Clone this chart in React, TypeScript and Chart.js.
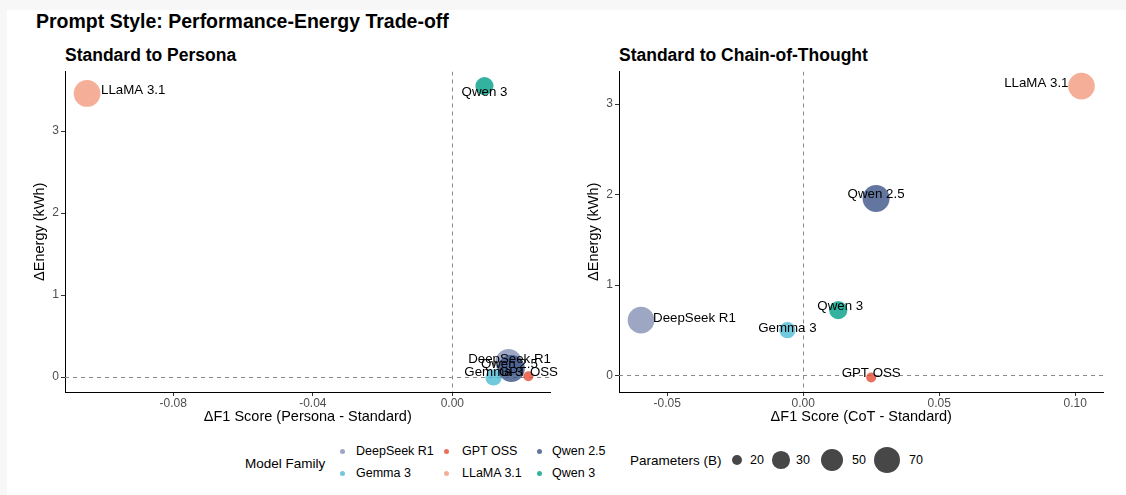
import React, { useEffect, useRef } from "react";
import { Chart, registerables } from "chart.js";

Chart.register(...registerables);

// ---------------- DATA ----------------
const models = ["DeepSeek R1", "Gemma 3", "GPT OSS", "LLaMA 3.1", "Qwen 2.5", "Qwen 3"];
const paramsB = [70, 27, 20, 70, 72, 32];

const personaDeltaF1 = [0.0161, 0.0118, 0.0218, -0.1047, 0.0169, 0.0092];
const personaDeltaEnergy = [0.18, -0.004, 0.01, 3.46, 0.106, 3.55];

const cotDeltaF1 = [-0.0596, -0.0058, 0.025, 0.1023, 0.0268, 0.0129];
const cotDeltaEnergy = [0.611, 0.5, -0.022, 3.2, 1.956, 0.722];

const personaXTicks = [-0.08, -0.04, 0.0];
const personaXTickLabels = ["-0.08", "-0.04", "0.00"];
const cotXTicks = [-0.05, 0.0, 0.05, 0.1];
const cotXTickLabels = ["-0.05", "0.00", "0.05", "0.10"];
const energyTicks = [0, 1, 2, 3];
const energyTickLabels = ["0", "1", "2", "3"];

const sizeBreaks = [20, 30, 50, 70];
const sizeBreakLabels = ["20", "30", "50", "70"];

const referenceX = [0];
const referenceY = [0];

// ---------------- STYLE ----------------
const FONT = '"Liberation Sans", Arial, Helvetica, sans-serif';
const familyColors = [
  "rgba(132,145,180,0.8)",
  "rgba(77,187,213,0.8)",
  "rgba(230,75,53,0.8)",
  "rgba(243,155,127,0.8)",
  "rgba(60,84,136,0.8)",
  "rgba(0,160,135,0.8)",
];
const P_MIN = 20;
const P_MAX = 72;
function sizeToRadius(p: number) {
  const t = Math.max(0, (p - P_MIN) / (P_MAX - P_MIN));
  return 5 + 8.5 * Math.sqrt(t);
}

type Place = { dx: number; dy: number; align: CanvasTextAlign };
const personaPlacement: Place[] = [
  { dx: 1, dy: -3, align: "center" },
  { dx: 0, dy: -5, align: "center" },
  { dx: 0, dy: -4, align: "center" },
  { dx: 14, dy: -3, align: "left" },
  { dx: -2, dy: -4, align: "center" },
  { dx: 0, dy: 6, align: "center" },
];
const cotPlacement: Place[] = [
  { dx: 12, dy: -2, align: "left" },
  { dx: 0, dy: -2, align: "center" },
  { dx: 0, dy: -4, align: "center" },
  { dx: -13, dy: -3, align: "right" },
  { dx: 0, dy: -4, align: "center" },
  { dx: 2, dy: -4, align: "center" },
];

function expandRange(vals: number[]) {
  const lo = Math.min(...vals);
  const hi = Math.max(...vals);
  const pad = (hi - lo) * 0.05;
  return [lo - pad, hi + pad];
}

function buildChart(
  canvas: HTMLCanvasElement,
  xs: number[],
  ys: number[],
  xTicks: number[],
  xTickLabels: string[],
  xTitle: string,
  placement: Place[]
) {
  const [xmin, xmax] = expandRange(xs);
  const [ymin, ymax] = expandRange(ys);

  const refPlugin = {
    id: "refLines",
    beforeDatasetsDraw(chart: any) {
      const { ctx, chartArea, scales } = chart;
      ctx.save();
      ctx.beginPath();
      ctx.rect(chartArea.left, chartArea.top, chartArea.right - chartArea.left, chartArea.bottom - chartArea.top);
      ctx.clip();
      ctx.strokeStyle = "#8a8a8a";
      ctx.lineWidth = 1;
      ctx.setLineDash([4, 4]);
      referenceX.forEach((v) => {
        const px = Math.round(scales.x.getPixelForValue(v)) + 0.5;
        ctx.beginPath();
        ctx.moveTo(px, chartArea.top);
        ctx.lineTo(px, chartArea.bottom);
        ctx.stroke();
      });
      referenceY.forEach((v) => {
        const py = Math.round(scales.y.getPixelForValue(v)) + 0.5;
        ctx.beginPath();
        ctx.moveTo(chartArea.left, py);
        ctx.lineTo(chartArea.right, py);
        ctx.stroke();
      });
      ctx.restore();
    },
  };

  const labelPlugin = {
    id: "pointLabels",
    afterDatasetsDraw(chart: any) {
      const { ctx } = chart;
      const meta = chart.getDatasetMeta(0);
      ctx.save();
      ctx.font = `13.3px ${FONT}`;
      ctx.fillStyle = "#000";
      ctx.textBaseline = "middle";
      meta.data.forEach((pt: any, i: number) => {
        const pl = placement[i];
        ctx.textAlign = pl.align;
        ctx.fillText(models[i], pt.x + pl.dx, pt.y + pl.dy);
      });
      ctx.restore();
    },
  };

  const tickFont = { family: FONT, size: 12 };
  const titleFont = { family: FONT, size: 14.5, lineHeight: 1 };

  return new Chart(canvas, {
    type: "scatter",
    data: {
      datasets: [
        {
          data: xs.map((x, i) => ({ x, y: ys[i] })),
          backgroundColor: familyColors,
          borderColor: "rgba(0,0,0,0)",
          borderWidth: 0,
          pointRadius: paramsB.map(sizeToRadius),
          pointHoverRadius: paramsB.map(sizeToRadius),
        },
      ],
    },
    options: {
      responsive: false,
      animation: false,
      devicePixelRatio: 1,
      events: [],
      layout: { padding: 0 },
      plugins: { legend: { display: false }, tooltip: { enabled: false } },
      scales: {
        x: {
          type: "linear",
          min: xmin,
          max: xmax,
          afterBuildTicks: (s: any) => {
            s.ticks = xTicks.map((v) => ({ value: v }));
          },
          afterFit: (s: any) => {
            s.height = 40;
            s.paddingLeft = 0;
            s.paddingRight = 0;
          },
          ticks: {
            callback: (_v: any, i: number) => xTickLabels[i],
            font: tickFont,
            color: "#4d4d4d",
            padding: 0,
            maxRotation: 0,
            autoSkip: false,
          },
          grid: { display: true, drawOnChartArea: false, drawTicks: true, tickLength: 4, color: "#333", lineWidth: 1 },
          border: { display: true, color: "#000", width: 1 },
          title: { display: true, text: xTitle, font: titleFont, color: "#000", padding: { top: 0, bottom: 8 } },
        },
        y: {
          type: "linear",
          min: ymin,
          max: ymax,
          afterBuildTicks: (s: any) => {
            s.ticks = energyTicks.map((v) => ({ value: v }));
          },
          afterFit: (s: any) => {
            s.width = 55;
            s.paddingTop = 0;
            s.paddingBottom = 0;
          },
          ticks: {
            callback: (_v: any, i: number) => energyTickLabels[i],
            font: tickFont,
            color: "#4d4d4d",
            padding: 2,
            autoSkip: false,
          },
          grid: { display: true, drawOnChartArea: false, drawTicks: true, tickLength: 4, color: "#333", lineWidth: 1 },
          border: { display: true, color: "#000", width: 1 },
          title: { display: true, text: "ΔEnergy (kWh)", font: titleFont, color: "#000", padding: { top: 23, bottom: 0 } },
        },
      },
    },
    plugins: [refPlugin, labelPlugin],
  } as any);
}

// page offset of the white card
const OX = 7;
const OY = 10;
const CANVAS_TOP = 58; // page y
const CANVAS_H = 374;

function Panel(props: {
  pageLeft: number;
  width: number;
  xs: number[];
  ys: number[];
  xTicks: number[];
  xTickLabels: string[];
  xTitle: string;
  placement: Place[];
}) {
  const ref = useRef<HTMLCanvasElement | null>(null);
  useEffect(() => {
    if (!ref.current) return;
    const c = buildChart(ref.current, props.xs, props.ys, props.xTicks, props.xTickLabels, props.xTitle, props.placement);
    return () => c.destroy();
  }, []);
  return (
    <canvas
      ref={ref}
      width={props.width}
      height={CANVAS_H}
      style={{ position: "absolute", left: props.pageLeft - OX, top: CANVAS_TOP - OY, width: props.width, height: CANVAS_H }}
    />
  );
}

function Txt(props: { x: number; cy: number; size: number; bold?: boolean; children: any; color?: string }) {
  return (
    <div
      style={{
        position: "absolute",
        left: props.x - OX,
        top: props.cy - OY - props.size / 2,
        fontSize: props.size,
        lineHeight: `${props.size}px`,
        fontWeight: props.bold ? 700 : 400,
        fontFamily: FONT,
        color: props.color || "#000",
        whiteSpace: "nowrap",
      }}
    >
      {props.children}
    </div>
  );
}

function Dot(props: { cx: number; cy: number; r: number; color: string }) {
  return (
    <div
      style={{
        position: "absolute",
        left: props.cx - OX - props.r,
        top: props.cy - OY - props.r,
        width: props.r * 2,
        height: props.r * 2,
        borderRadius: "50%",
        background: props.color,
      }}
    />
  );
}

export default function App() {
  const colX = [342, 446, 539];
  const labX = [356, 462, 552];
  const rowY = [451, 473];
  const sizeX = [737, 781, 832, 887];
  const sizeLabX = [750, 796, 852, 909];
  return (
    <>
      <style>{`body{margin:0;background:#f7f7f7;}`}</style>
      <div
        style={{
          position: "absolute",
          left: OX,
          top: OY,
          width: 1126 - OX,
          height: 495 - OY,
          background: "#fff",
          overflow: "hidden",
        }}
      >
        <Txt x={36} cy={22} size={19.5} bold>
          Prompt Style: Performance-Energy Trade-off
        </Txt>
        <Txt x={65} cy={56} size={17.5} bold>
          Standard to Persona
        </Txt>
        <Txt x={619} cy={56} size={17.5} bold>
          Standard to Chain-of-Thought
        </Txt>

        <Panel
          pageLeft={10}
          width={554}
          xs={personaDeltaF1}
          ys={personaDeltaEnergy}
          xTicks={personaXTicks}
          xTickLabels={personaXTickLabels}
          xTitle="ΔF1 Score (Persona - Standard)"
          placement={personaPlacement}
        />
        <Panel
          pageLeft={564}
          width={553}
          xs={cotDeltaF1}
          ys={cotDeltaEnergy}
          xTicks={cotXTicks}
          xTickLabels={cotXTickLabels}
          xTitle="ΔF1 Score (CoT - Standard)"
          placement={cotPlacement}
        />

        <Txt x={245} cy={464} size={13.5}>
          Model Family
        </Txt>
        {models.map((m, i) => {
          const col = Math.floor(i / 2);
          const row = i % 2;
          return (
            <React.Fragment key={m}>
              <Dot cx={colX[col]} cy={rowY[row]} r={2.5} color={familyColors[i]} />
              <Txt x={labX[col]} cy={rowY[row]} size={12.5}>
                {m}
              </Txt>
            </React.Fragment>
          );
        })}

        <Txt x={630} cy={461} size={13.5}>
          Parameters (B)
        </Txt>
        {sizeBreaks.map((b, i) => (
          <React.Fragment key={b}>
            <Dot cx={sizeX[i]} cy={460} r={sizeToRadius(b)} color="rgba(0,0,0,0.72)" />
            <Txt x={sizeLabX[i]} cy={460} size={12.5}>
              {sizeBreakLabels[i]}
            </Txt>
          </React.Fragment>
        ))}
      </div>
    </>
  );
}
